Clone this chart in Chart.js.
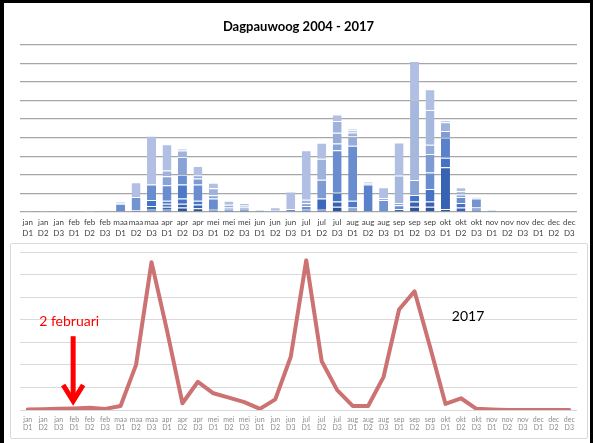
<!DOCTYPE html>
<html><head><meta charset="utf-8">
<script src="https://cdn.jsdelivr.net/npm/chart.js@4"></script>
<style>
html,body{margin:0;padding:0;background:#fff;width:595px;height:443px;overflow:hidden;}
#frame{position:absolute;left:0;top:0;width:586px;height:460px;border-left:4px solid #000;border-top:3px solid #000;border-right:3px solid #000;pointer-events:none;}
#top{position:absolute;left:4px;top:3px;}
#box{position:absolute;left:10px;top:243px;width:576px;height:194px;border:1px solid #d9d9d9;border-radius:2px;}
#bot{position:absolute;left:0;top:0;}
</style></head>
<body>
<canvas id="top" width="586" height="240"></canvas>
<div id="box"><canvas id="bot" width="576" height="194"></canvas></div>
<div id="frame"></div>
<script>
const months = ['jan','feb','maa','apr','mei','jun','jul','aug','sep','okt','nov','dec'];
const decades = ['D1','D2','D3'];
const years = ['2004','2005','2006','2007','2008','2009','2010','2011','2012','2013','2014','2015','2016','2017'];

const s2004 = [0,0,0,0,0,0, 0,0,3,3,6,5, 0,0,3,0,0,0, 0,3,7,3,0,0, 0,7,7,4,0,3, 0,0,0,0,0,0];
const s2005 = [0,0,0,0,0,0, 0,2,0,4,5,5, 3,3,0,0,0,0, 3,0,7,3,0,0, 4,7,7,56,6,0, 0,0,0,0,0,0];
const s2006 = [0,0,0,0,0,0, 0,0,5,0,0,0, 0,0,0,0,0,0, 0,15,0,0,0,0, 0,0,0,0,0,3, 0,0,0,0,0,0];
const s2007 = [0,0,0,0,0,0, 0,0,8,4,7,5, 0,0,0,0,0,0, 0,0,12,0,0,0, 0,9,17,13,6,0, 0,0,0,0,0,0];
const s2008 = [0,0,0,0,0,0, 0,0,0,4,19,0, 0,0,0,0,0,0, 0,0,0,9,0,0, 0,0,0,0,0,0, 0,0,0,0,0,0];
const s2009 = [0,0,0,0,0,0, 0,0,0,0,0,0, 0,0,0,0,0,0, 0,0,0,0,37,0, 0,0,0,27,0,0, 0,0,0,0,0,0];
const s2010 = [0,0,0,0,0,0, 11,0,21,21,13,22, 15,0,3,2.5,0,4, 5,0,57,74,0,0, 5,0,22,0,8,0, 2.3,0,0,0,0,0];
const s2011 = [0,0,0,0,0,0, 0,18,0,0,0,0, 0,0,0,0,0,0, 0,0,0,0,0,16, 0,0,0,0,0,12, 0,0,0,0,0,0];
const s2012 = [0,0,0,0,0,0, 0,0,0,0,0,8, 0,3,0,0,0,0, 3.6,25.5,0,0,0,0, 0,0,25,9,0,0, 0,0,0,0,0,0];
const s2013 = [0,0,0,0,0,0, 0,0,0,12,24,0, 4.4,0,0,0,0,0, 0,0,9,0,0,0, 3,20,0,0,3.6,0, 0,1.7,0,0,0,0];
const s2014 = [0,0,0,0,0,0, 0,0,0,0,0,4.4, 0,3.6,0,0,0,0, 0,0,14.4,12.5,0,0, 0,0,12.5,0,0,0, 0,0,0,0,0,0];
const s2015 = [0,0,0,0,0.2,1.5, 0,0,0,7.7,8.5,0, 9.4,0,2.7,0,1.6,0, 5,28,16,5.4,1.8,2.7, 0,0,0,11.7,4.4,1.3, 0,0,0,0,0,0];
const s2016 = [0,0,0,0,0,0, 1,0,0,0,0,0, 0,0,0,0,0,0, 0,0,0,3,0,0, 37,107.5,46.6,0,0,0, 0,0,0,0,0,0];
const s2017 = [0.2,0.3,0.5,0.7,1,0.5, 1.8,20,65.5,35.3,3,12.5, 7.4,5.5,3.5,0.5,4.7,23.6, 66.3,21.6,8.8,1.8,1.8,14.7, 44.5,52.6,28,2.7,5.2,0.5, 0.2,0,0,0,0,0];

const seriesList = [s2004,s2005,s2006,s2007,s2008,s2009,s2010,s2011,s2012,s2013,s2014,s2015,s2016,s2017];
const barColors = ['#2f5597','#3862b2','#3d69bd','#4472c4','#4d79c7','#5a82cb','#6a8dcf','#7393d1','#7f9bd4','#8aa3d7','#95abda','#9eb2dc','#a7b8df','#b0bfe3'];

const titleText = 'Dagpauwoog 2004 - 2017';
const lineLabel = '2017';
const noteText = '2 februari';
const noteIndex = 3;       // feb D1
const topMax = 225, topStep = 25;
const botMax = 70, botStep = 10;

const labels = months.flatMap(m => decades.map(d => [m, d]));

Chart.defaults.font.family = 'Lato';

new Chart(document.getElementById('top'), {
  type: 'bar',
  data: {
    labels: labels,
    datasets: seriesList.map((s, i) => ({
      label: years[i],
      data: s,
      backgroundColor: barColors[i],
      borderColor: 'rgba(255,255,255,0.3)',
      borderWidth: {top: 1, left: 0, right: 0, bottom: 0},
      barPercentage: 0.58,
      categoryPercentage: 1
    }))
  },
  options: {
    responsive: false,
    animation: false,
    layout: {padding: {left: 16, right: 13, top: 0, bottom: 0}},
    plugins: {
      legend: {display: false},
      tooltip: {enabled: false},
      title: {display: true, text: titleText, color: '#000',
        font: {family: 'Lato', size: 13, weight: 'bold'}, padding: {top: 16, bottom: 10}}
    },
    scales: {
      x: {
        stacked: true,
        grid: {display: false, drawTicks: false},
        border: {display: false},
        ticks: {autoSkip: false, maxRotation: 0, minRotation: 0, color: '#404040',
          font: {size: 8, lineHeight: 1.35}, padding: 5},
        afterFit(s) { s.height = 31; }
      },
      y: {
        stacked: true, min: 0, max: topMax,
        ticks: {display: false, stepSize: topStep},
        grid: {color: '#a6a6a6', lineWidth: 1.2, drawTicks: false},
        border: {display: false},
        afterFit(s) { s.width = 0; }
      }
    }
  }
});

const annot = {
  id: 'annot',
  afterDatasetsDraw(chart) {
    const {ctx, scales: {x, y}} = chart;
    const ax = x.getPixelForValue(noteIndex) - 1;
    const top = y.getPixelForValue(32.7);
    const tip = y.getPixelForValue(2.2);
    ctx.save();
    ctx.strokeStyle = '#ff0000';
    ctx.lineWidth = 5;
    ctx.lineCap = 'butt';
    ctx.lineJoin = 'miter';
    ctx.beginPath(); ctx.moveTo(ax, top); ctx.lineTo(ax, tip - 4); ctx.stroke();
    ctx.beginPath(); ctx.moveTo(ax - 10, tip - 20); ctx.lineTo(ax, tip - 4); ctx.lineTo(ax + 10, tip - 20); ctx.stroke();
    ctx.font = '14px Lato';
    ctx.textAlign = 'center';
    ctx.textBaseline = 'middle';
    ctx.fillStyle = '#ff0000';
    ctx.fillText(noteText, ax - 4, y.getPixelForValue(39));
    ctx.fillStyle = '#000000';
    ctx.fillText(lineLabel, x.getPixelForValue(28.46), y.getPixelForValue(41.6));
    ctx.restore();
  }
};

new Chart(document.getElementById('bot'), {
  type: 'line',
  data: {
    labels: labels,
    datasets: [{
      label: lineLabel,
      data: s2017,
      borderColor: '#cc7272',
      borderWidth: 4,
      pointRadius: 0,
      tension: 0,
      borderJoinStyle: 'round',
      borderCapStyle: 'round',
      fill: false
    }]
  },
  options: {
    responsive: false,
    animation: false,
    layout: {padding: {left: 9, right: 10, top: 8, bottom: 0}},
    plugins: {legend: {display: false}, tooltip: {enabled: false}, title: {display: false}},
    scales: {
      x: {
        offset: true,
        grid: {display: false, drawTicks: false},
        border: {display: false},
        ticks: {autoSkip: false, maxRotation: 0, minRotation: 0, color: '#8c8c8c',
          font: {size: 7, lineHeight: 1.25}, padding: 5},
        afterFit(s) { s.height = 28; }
      },
      y: {
        min: 0, max: botMax,
        ticks: {display: false, stepSize: botStep},
        grid: {color: '#d9d9d9', lineWidth: 1, drawTicks: false},
        border: {display: false},
        afterFit(s) { s.width = 0; }
      }
    }
  },
  plugins: [annot]
});
</script>
</body></html>
